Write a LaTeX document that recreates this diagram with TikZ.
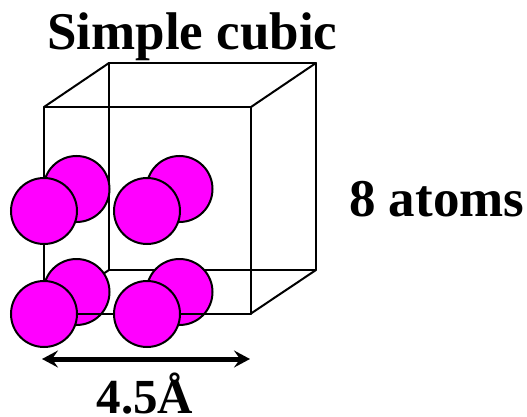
\documentclass[tikz,border=0pt]{standalone}
\usepackage{fontspec}
\setmainfont{Liberation Serif}
\usetikzlibrary{arrows.meta}
\definecolor{atomfill}{RGB}{255,0,255}
\tikzset{
  edge/.style={line width=2pt,black,line cap=round,line join=round},
  atom/.style={circle,draw=black,fill=atomfill,line width=2pt,minimum size=66pt,inner sep=0pt},
  lab/.style={anchor=base west,inner sep=0pt,font=\fontsize{53}{53}\selectfont\bfseries},
  lablow/.style={anchor=base west,inner sep=0pt,font=\fontsize{49}{49}\selectfont\bfseries},
  dim/.style={line width=5pt,{Stealth[length=16pt,width=17pt,inset=6pt]}-{Stealth[length=16pt,width=17pt,inset=6pt]}}
}
\begin{document}
\begin{tikzpicture}[x=1pt,y=-1pt]
\useasboundingbox (0,0) rectangle (527,417);
% front face corners
\coordinate (fa) at (44,107); \coordinate (fb) at (251,107);
\coordinate (fc) at (251,313.5); \coordinate (fd) at (44,313.5);
% back face corners
\coordinate (ba) at (109,63); \coordinate (bb) at (316,63);
\coordinate (bc) at (316,270); \coordinate (bd) at (109,270);
\draw[edge] (ba) -- (bb) -- (bc) -- (bd) -- cycle;
\draw[edge] (fa) -- (fb) -- (fc) -- (fd) -- cycle;
\draw[edge] (fa) -- (ba) (fb) -- (bb) (fc) -- (bc) (fd) -- (bd);
% back atoms
\node[atom] (a1) at (76.5,189) {};
\node[atom] (a2) at (179.5,189) {};
\node[atom] (a3) at (76.5,292) {};
\node[atom] (a4) at (179.5,292) {};
\draw[edge] (fd) -- (fc);
% front atoms
\node[atom] (a5) at (44,211) {};
\node[atom] (a6) at (147,211) {};
\node[atom] (a7) at (44,314) {};
\node[atom] (a8) at (147,314) {};
% dimension arrow
\coordinate (dl) at (42,359); \coordinate (dr) at (250,359);
\draw[dim] (dl) -- (dr);
% labels
\node[lab] (title) at (47,49.5) {Simple cubic};
\node[lab] (count) at (349,216) {8 atoms};
\node[lablow] (size) at (96.5,413.5) {4.5Å};
\end{tikzpicture}
\end{document}
